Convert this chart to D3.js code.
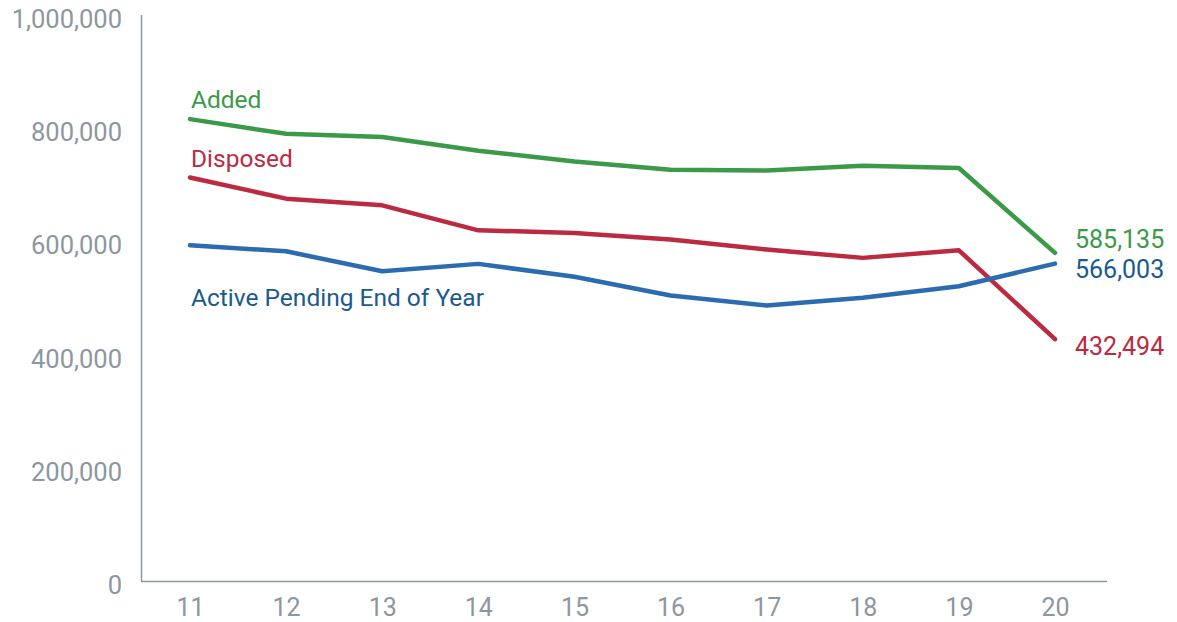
<!DOCTYPE html>
<html><head><meta charset="utf-8">
<script src="https://cdn.jsdelivr.net/npm/d3@7"></script>
<style>body{margin:0;background:#fff}svg{display:block}text{font-family:Roboto,"Noto Sans",sans-serif}</style>
</head><body>
<svg id="c" width="1177" height="622"></svg>
<script>
const years = ["11","12","13","14","15","16","17","18","19","20"];
const added = [821300,795400,789600,765400,746600,731900,730700,738900,734900,585135];
const disposed = [718300,680800,669000,624900,620300,608500,590800,576200,589600,432494];
const active = [598400,587800,552600,565600,542700,509700,492100,505600,526100,566003];
const yTicks = [0,200000,400000,600000,800000,1000000];
const seriesNames = ["Added","Disposed","Active Pending End of Year"];
const endLabels = ["585,135","566,003","432,494"];

const svg = d3.select("#c");
const x = d3.scalePoint().domain(years).range([190,1055]);
const y = d3.scaleLinear().domain([0,1000000]).range([584,18]);
const gray = "#8b97a1";

svg.append("line").attr("x1",141.5).attr("x2",141.5).attr("y1",15).attr("y2",581).attr("stroke",gray).attr("stroke-width",1.5);
svg.append("line").attr("x1",141).attr("x2",1107).attr("y1",581.5).attr("y2",581.5).attr("stroke",gray).attr("stroke-width",1.5);

const yAxis = d3.axisLeft(y).tickValues(yTicks).tickSize(0).tickPadding(0).tickFormat(d3.format(","));
const gy = svg.append("g").attr("transform","translate(122,0)").call(yAxis);
gy.select(".domain").remove();
gy.selectAll("text").attr("fill",gray).style("font-size","25.5px").attr("dy","0.37em");

const xAxis = d3.axisBottom(x).tickSize(0).tickPadding(0);
const gx = svg.append("g").attr("transform","translate(0,598)").call(xAxis);
gx.select(".domain").remove();
gx.selectAll("text").attr("fill",gray).style("font-size","25px").attr("dy","0.71em");

const line = d3.line().x((d,i)=>x(years[i])).y(d=>y(d));
const cols = ["#3a9a48","#bb2a41","#2b6cb0"];
[added,disposed,active].forEach((s,i)=>{
  svg.append("path").datum(s).attr("d",line).attr("fill","none")
    .attr("stroke",cols[i]).attr("stroke-width",4.5).attr("stroke-linejoin","round").attr("stroke-linecap","round");
});

const labCols = ["#3a9a48","#bb2a41","#1b5a8e"];
const labY = [108,167,306];
seriesNames.forEach((n,i)=>{
  svg.append("text").attr("x",191).attr("y",labY[i]).attr("fill",labCols[i]).style("font-size","24.5px").text(n);
});
const endY = [248,277.5,355];
const endCols = ["#3a9a48","#1b5a8e","#bb2a41"];
endLabels.forEach((t,i)=>{
  svg.append("text").attr("x",1075).attr("y",endY[i]).attr("fill",endCols[i]).style("font-size","25px").text(t);
});
</script>
</body></html>
